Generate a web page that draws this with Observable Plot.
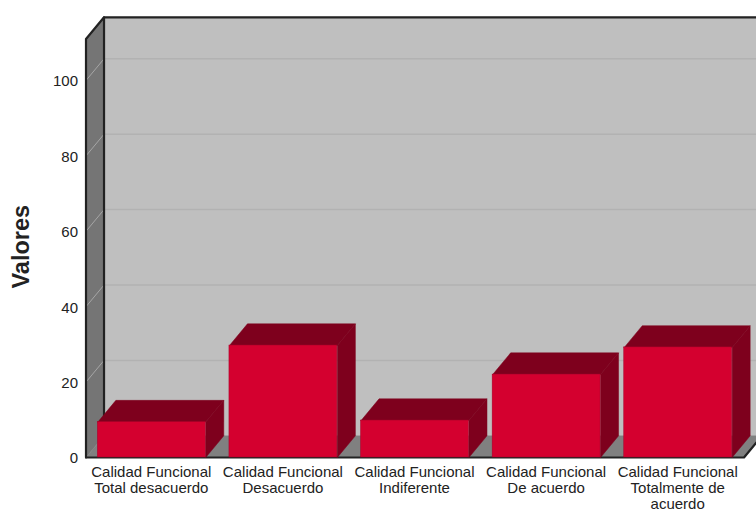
<!DOCTYPE html>
<html>
<head>
<meta charset="utf-8">
<script src="https://cdn.jsdelivr.net/npm/d3@7"></script>
<script src="https://cdn.jsdelivr.net/npm/@observablehq/plot@0.6"></script>
<style>
  html, body { margin: 0; padding: 0; background: #fff; }
  svg { display: block; }
</style>
</head>
<body>
<div id="chart"></div>
<script>
const categories = [
  "Calidad Funcional\nTotal desacuerdo",
  "Calidad Funcional\nDesacuerdo",
  "Calidad Funcional\nIndiferente",
  "Calidad Funcional\nDe acuerdo",
  "Calidad Funcional\nTotalmente de\nacuerdo"
];
const values = [9.4, 29.7, 9.8, 22.0, 29.2];
const yTicks = [0, 20, 40, 60, 80, 100];
const yTop = 111;

// Oblique projection: a unit of depth shifts a point right and up in data units.
const depthX = 0.137;
const depthY = 5.76;
const barWidth = 0.82;
const slots = categories.length;

const faceRows = (id, corners) =>
  [...corners, corners[0]].map(([x, y]) => ({id, x, y}));

const floor = faceRows("floor", [[0, 0], [slots, 0], [slots + depthX, depthY], [depthX, depthY]]);
const backWall = faceRows("back", [[depthX, depthY], [slots + depthX + 1, depthY], [slots + depthX + 1, yTop + depthY], [depthX, yTop + depthY]]);
const sideWall = faceRows("side", [[0, 0], [depthX, depthY], [depthX, yTop + depthY], [0, yTop]]);

const bars = values.map((v, i) => ({
  i, v, label: categories[i],
  x1: i + 0.5 - barWidth / 2,
  x2: i + 0.5 + barWidth / 2
}));
const barTops = bars.flatMap(b => faceRows(`t${b.i}`, [
  [b.x1, b.v], [b.x2, b.v], [b.x2 + depthX, b.v + depthY], [b.x1 + depthX, b.v + depthY]
]));
const barSides = bars.flatMap(b => faceRows(`s${b.i}`, [
  [b.x2, 0], [b.x2 + depthX, depthY], [b.x2 + depthX, b.v + depthY], [b.x2, b.v]
]));

const segment = (rows, stroke, strokeWidth) => Plot.line(rows, {x: "x", y: "y", z: "id", stroke, strokeWidth});
const face = (rows, fill) => Plot.line(rows, {x: "x", y: "y", z: "id", fill, stroke: fill, strokeWidth: 0.5});

const backGrid = yTicks.filter(t => t > 0).flatMap(t => [
  {id: `g${t}`, x: depthX, y: t + depthY},
  {id: `g${t}`, x: slots + depthX + 1, y: t + depthY}
]);
const sideGrid = yTicks.filter(t => t > 0).flatMap(t => [
  {id: `w${t}`, x: 0, y: t},
  {id: `w${t}`, x: depthX, y: t + depthY}
]);
const frame = [
  {id: "outer", x: 0, y: 0},
  {id: "outer", x: 0, y: yTop},
  {id: "outer", x: depthX, y: yTop + depthY},
  {id: "outer", x: slots + depthX + 1, y: yTop + depthY},
  {id: "inner", x: depthX, y: yTop + depthY},
  {id: "inner", x: depthX, y: depthY},
  {id: "base", x: 0, y: 0},
  {id: "base", x: slots, y: 0},
  {id: "base", x: slots + depthX, y: depthY}
];

const chart = Plot.plot({
  width: 756,
  height: 511,
  marginLeft: 85.5,
  marginRight: 12.5,
  marginTop: 80,
  marginBottom: 54,
  x: {type: "linear", domain: [0, slots], axis: null},
  y: {type: "linear", domain: [0, 100], axis: null},
  style: {fontFamily: "'Liberation Sans', Arial, sans-serif", background: "#fff", overflow: "hidden"},
  marks: [
    face(backWall, "#bfbfbf"),
    face(sideWall, "#757575"),
    face(floor, "#808080"),
    segment(backGrid, "#b2b2b2", 1.5),
    segment(sideGrid, "#a6a6a6", 1),
    segment(frame, "#222222", 2.2),
    face(barTops, "#7e001d"),
    face(barSides, "#7e001d"),
    Plot.rect(bars, {x1: "x1", x2: "x2", y1: 0, y2: "v", fill: "#d4002f", stroke: "#a8002a", strokeWidth: 0.5}),
    Plot.axisY(yTicks, {
      anchor: "left", tickSize: 0, tickPadding: 8, fontSize: 15, dy: 1, label: null, color: "#222"
    }),
    Plot.text(bars, {
      x: d => d.i + 0.5, y: 0, text: "label", dx: -0.5, dy: 8, fontSize: 15, lineHeight: 1.07,
      fill: "#222", lineAnchor: "top"
    }),
    Plot.text(["Valores"], {
      x: 0, y: 55.9, dx: -64.5, rotate: -90, fontSize: 23.5, fontWeight: "bold", fill: "#222"
    })
  ]
});
document.getElementById("chart").append(chart);
</script>
</body>
</html>
